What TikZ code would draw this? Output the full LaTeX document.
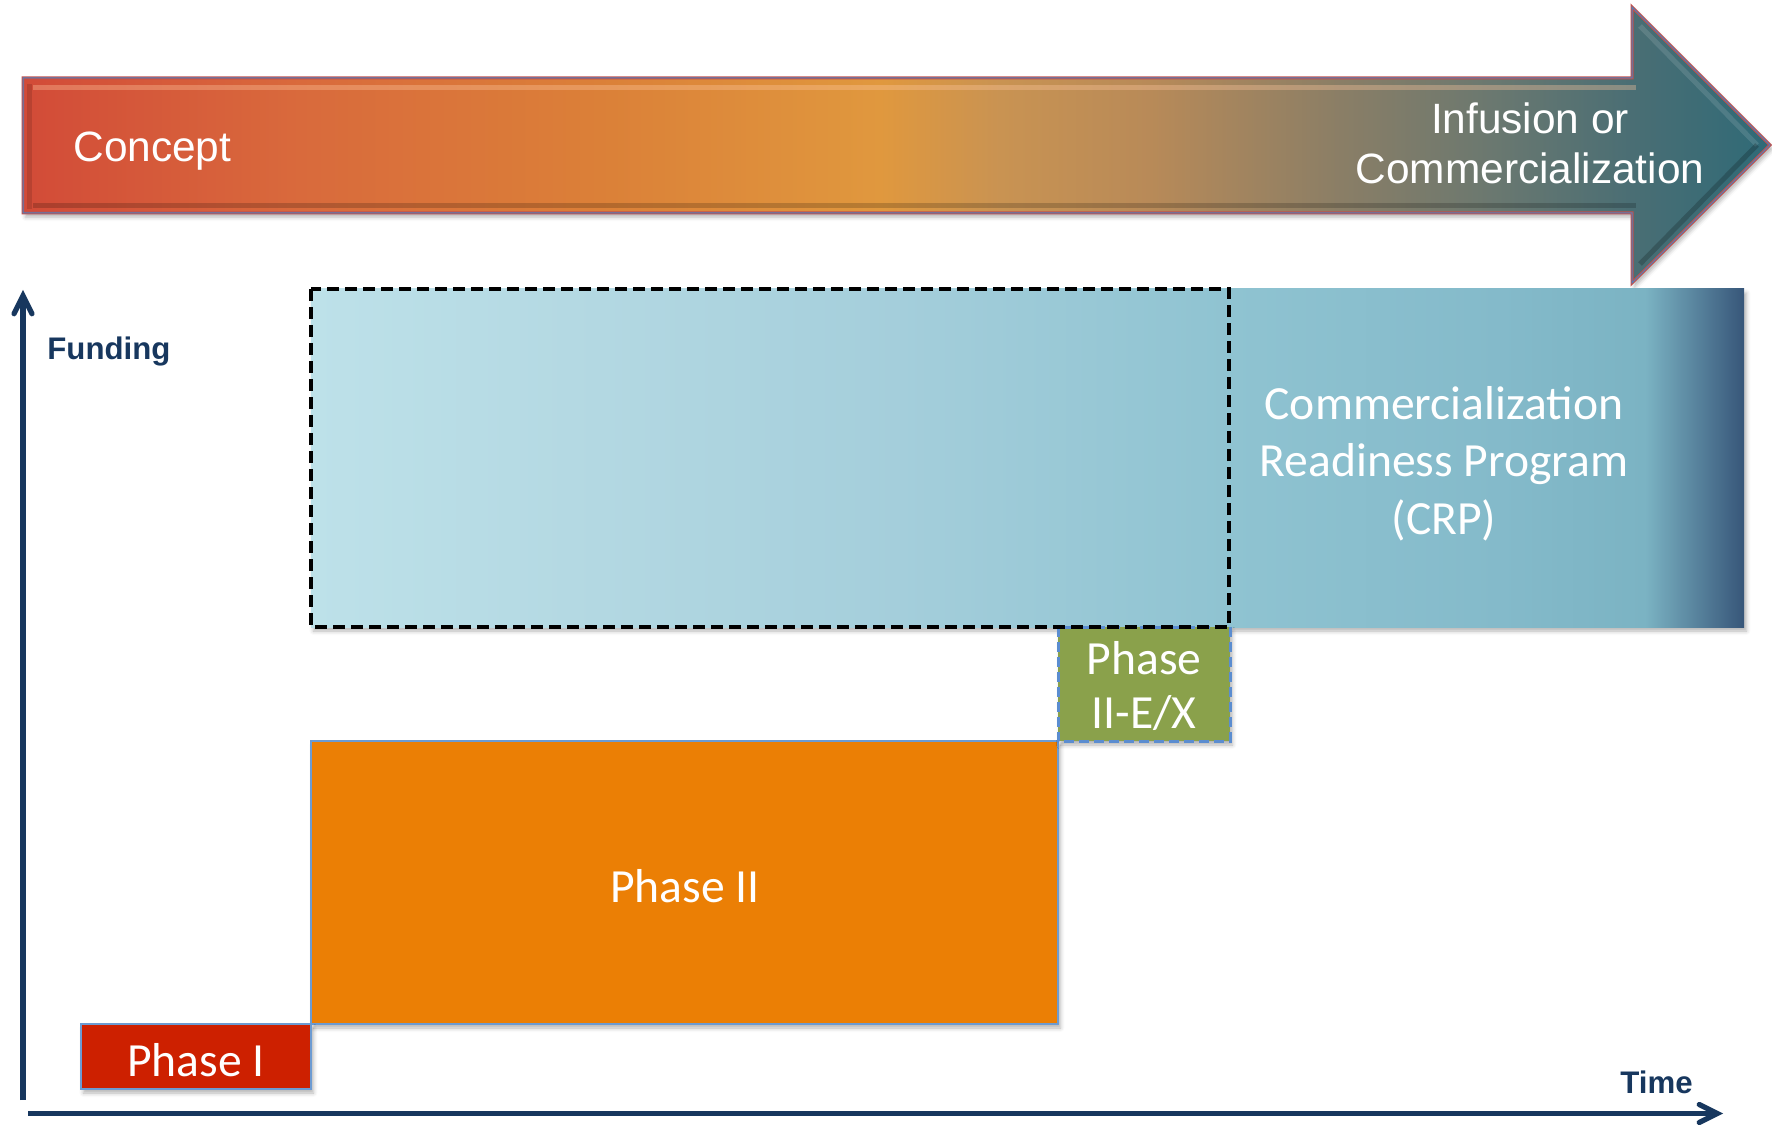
\documentclass[tikz,border=0pt]{standalone}
\usepackage{fontspec}
\setmainfont{Liberation Sans}
\newfontfamily\calfont{Carlito}
\usetikzlibrary{arrows.meta,shadows.blur}
\definecolor{axisblue}{HTML}{17375E}
\definecolor{arrowred}{HTML}{C0504D}
\definecolor{arrowblue}{HTML}{4F81BD}
\definecolor{phaseIcol}{HTML}{CD2000}
\definecolor{phaseIIcol}{HTML}{EB7F05}
\definecolor{phasegreen}{HTML}{8AA14B}
\definecolor{greenedge}{HTML}{5B8DD0}
\definecolor{boxedge}{HTML}{6C9BD2}
\definecolor{a0}{HTML}{D24B38}
\definecolor{a1}{HTML}{D96A3C}
\definecolor{a2}{HTML}{DB8038}
\definecolor{a3}{HTML}{E0983E}
\definecolor{a4}{HTML}{C99352}
\definecolor{a5}{HTML}{B88A58}
\definecolor{a6}{HTML}{8A7E66}
\definecolor{a7}{HTML}{6A7870}
\definecolor{a8}{HTML}{4A6E74}
\definecolor{a9}{HTML}{2F6A77}
\definecolor{b0}{HTML}{BDE1E9}
\definecolor{b1}{HTML}{B3D8E2}
\definecolor{b2}{HTML}{A4CEDB}
\definecolor{b3}{HTML}{8FC3D1}
\definecolor{b4}{HTML}{84BACA}
\definecolor{b5}{HTML}{7BB3C3}
\definecolor{b6}{HTML}{375679}
\definecolor{glint}{HTML}{FFC8A0}
\pgfdeclarehorizontalshading{arrowshade}{100bp}{color(0bp)=(a0); color(25bp)=(a0); color(32.93bp)=(a1); color(41.51bp)=(a2); color(49.53bp)=(a3); color(52.96bp)=(a4); color(57.26bp)=(a5); color(62.72bp)=(a6); color(67.10bp)=(a7); color(71.05bp)=(a8); color(75bp)=(a9); color(100bp)=(a9)}
\pgfdeclarehorizontalshading{bandshade}{100bp}{color(0bp)=(b0); color(25bp)=(b0); color(35.08bp)=(b1); color(45.55bp)=(b2); color(57.07bp)=(b3); color(66.49bp)=(b4); color(71.55bp)=(b5); color(75bp)=(b6); color(100bp)=(b6)}
\begin{document}
\begin{tikzpicture}[x=0.5pt,y=-0.5pt,
  softshadow/.style={blur shadow={shadow xshift=1.2pt,shadow yshift=-2pt,shadow blur radius=2pt,shadow opacity=30}},
  boxtext/.style={font=\calfont\fontsize{23.8}{28}\selectfont, text=white, inner sep=0pt, anchor=base},
  arrowtext/.style={font=\fontsize{21.2}{25}\selectfont, text=white, inner sep=0pt},
  axislabel/.style={font=\bfseries\fontsize{15.6}{18}\selectfont, text=axisblue, inner sep=0pt, anchor=base west},
  phasebox/.style={draw=boxedge, line width=0.8pt, softshadow},
  axisline/.style={draw=axisblue, line width=2.6pt, -{Straight Barb[length=9pt,width=9pt,line cap=round]}}
]
\useasboundingbox (0,0) rectangle (1772,1128);

% big process arrow
\path[softshadow, shading=arrowshade, draw=arrowred, double=arrowblue, double distance=0.5pt, line width=0.5pt]
  (23,78) -- (1632,78) -- (1632,7) -- (1770,145) -- (1632,283) -- (1632,213) -- (23,213) -- cycle;
\draw[glint, opacity=0.35, line width=2.5pt] (33,88) -- (1636,88);
\draw[black, opacity=0.18, line width=2.5pt] (33,206) -- (1636,206);
\draw[black, opacity=0.12, line width=2.5pt] (29,84) -- (29,209);
\draw[white, opacity=0.12, line width=2.5pt] (1640,26) -- (1757,145);
\draw[black, opacity=0.2, line width=2.5pt] (1757,145) -- (1640,264);

% funding band
\path[shading=bandshade, softshadow] (311,289) rectangle (1744,627);

% phase boxes
\path[phasebox, fill=phaseIIcol] (311,741) rectangle (1058,1024);
\path[phasebox, fill=phaseIcol] (81,1024) rectangle (311,1089);
\path[softshadow, fill=phasegreen, draw=greenedge, line width=1.5pt, dash pattern=on 5pt off 2.5pt] (1058,627) rectangle (1230,741);
\draw[black, line width=1.6pt, dash pattern=on 6pt off 3pt] (311,289) rectangle (1229,627);

% axes
\coordinate (yO) at (23,1100);
\coordinate (yT) at (23,290);
\coordinate (xO) at (28,1113.5);
\coordinate (xT) at (1723,1113.5);
\draw[axisline] (yO) -- (yT);
\draw[axisline] (xO) -- (xT);

% texts
\node[arrowtext, anchor=base west] (concept) at (73,162) {Concept};
\node[arrowtext, anchor=base] (inf1) at (1530,134) {Infusion or};
\node[arrowtext, anchor=base] (inf2) at (1530,184) {Commercialization};
\node[axislabel] (funding) at (47,360) {Funding};
\node[axislabel] (time) at (1620,1093) {Time};
\node[boxtext] (p1) at (196,1076) {Phase I};
\node[boxtext] (p2) at (685,902) {Phase II};
\node[boxtext] (pe1) at (1144,674) {Phase};
\node[boxtext] (pe2) at (1144,728) {II-E/X};
\node[boxtext] (crp1) at (1444,420) {Commercialization};
\node[boxtext] (crp2) at (1444,476) {Readiness Program};
\node[boxtext] (crp3) at (1444,534) {(CRP)};
\end{tikzpicture}
\end{document}
